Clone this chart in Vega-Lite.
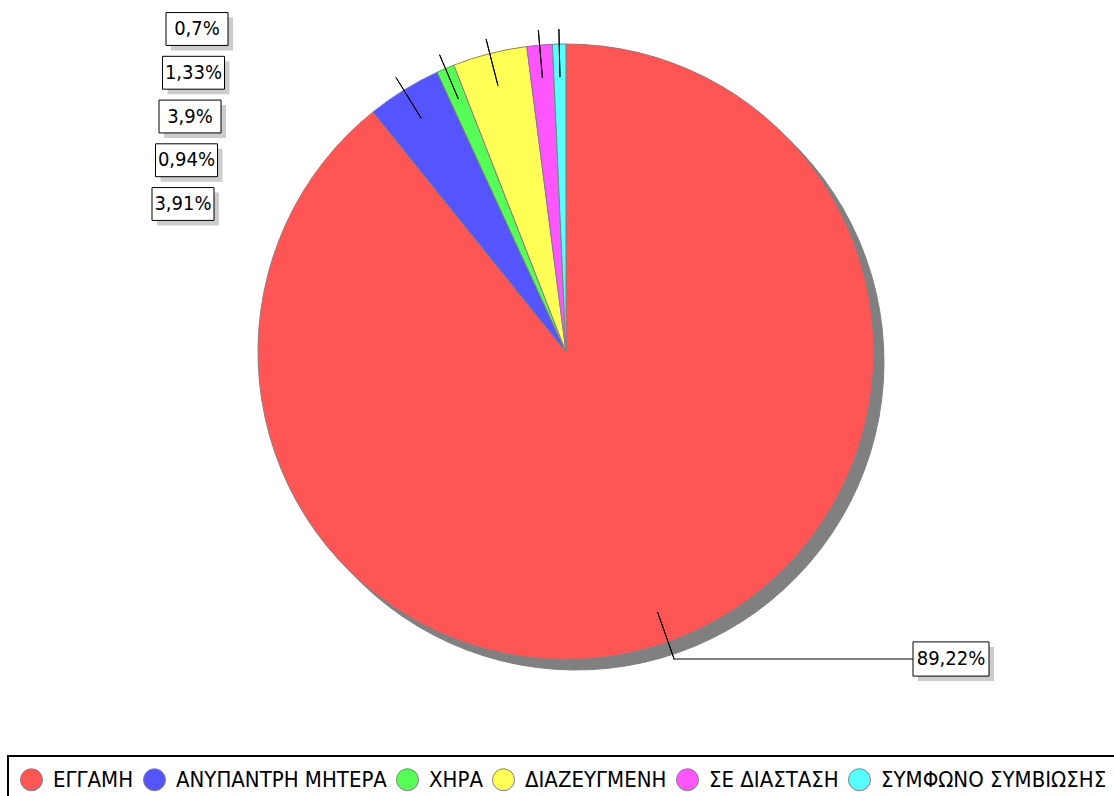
{
  "$schema": "https://vega.github.io/schema/vega-lite/v6.json",
  "width": 1096,
  "height": 704,
  "autosize": {"type": "none"},
  "padding": {"left": 18, "top": 0, "right": 0, "bottom": 92},
  "background": "#ffffff",
  "config": {
    "view": {"stroke": null},
    "font": "DejaVu Sans",
    "legend": {"strokeWidth": 2}
  },
  "data": {
    "values": [
      {"category": "ΕΓΓΑΜΗ", "value": 89.22, "order": 1, "label": "89,22%"},
      {"category": "ΑΝΥΠΑΝΤΡΗ ΜΗΤΕΡΑ", "value": 3.91, "order": 2, "label": "3,91%"},
      {"category": "ΧΗΡΑ", "value": 0.94, "order": 3, "label": "0,94%"},
      {"category": "ΔΙΑΖΕΥΓΜΕΝΗ", "value": 3.9, "order": 4, "label": "3,9%"},
      {"category": "ΣΕ ΔΙΑΣΤΑΣΗ", "value": 1.33, "order": 5, "label": "1,33%"},
      {"category": "ΣΥΜΦΩΝΟ ΣΥΜΒΙΩΣΗΣ", "value": 0.7, "order": 6, "label": "0,7%"}
    ]
  },
  "layer": [
    {
      "mark": {"type": "arc", "radius": 308, "fill": "#808080", "stroke": "#808080", "strokeWidth": 1, "xOffset": 10, "yOffset": 10},
      "encoding": {
        "theta": {"field": "value", "type": "quantitative"},
        "order": {"field": "order", "type": "quantitative"}
      }
    },
    {
      "mark": {"type": "arc", "radius": 308, "stroke": "#808080", "strokeWidth": 1},
      "encoding": {
        "theta": {"field": "value", "type": "quantitative"},
        "order": {"field": "order", "type": "quantitative"},
        "color": {
          "field": "category",
          "type": "nominal",
          "scale": {
            "domain": ["ΕΓΓΑΜΗ", "ΑΝΥΠΑΝΤΡΗ ΜΗΤΕΡΑ", "ΧΗΡΑ", "ΔΙΑΖΕΥΓΜΕΝΗ", "ΣΕ ΔΙΑΣΤΑΣΗ", "ΣΥΜΦΩΝΟ ΣΥΜΒΙΩΣΗΣ"],
            "range": ["#ff5555", "#5555ff", "#55ff55", "#ffff55", "#ff55ff", "#55ffff"]
          },
          "legend": {
            "orient": "none",
            "legendX": -10,
            "legendY": 756,
            "direction": "horizontal",
            "columns": 6,
            "title": null,
            "symbolType": "circle",
            "symbolSize": 484,
            "symbolStrokeColor": "#808080",
            "symbolStrokeWidth": 1,
            "symbolOpacity": 1,
            "labelFont": "DejaVu Sans Condensed, DejaVu Sans",
            "labelFontSize": 22,
            "labelColor": "#000000",
            "labelOffset": 10,
            "labelLimit": 500,
            "columnPadding": 7,
            "padding": 12,
            "strokeColor": "#000000",
            "fillColor": "#ffffff"
          }
        }
      }
    },
    {
      "mark": {"type": "arc", "innerRadius": 275, "outerRadius": 323, "padAngle": 3.14, "filled": false, "fill": null, "stroke": "#000000", "strokeWidth": 1},
      "encoding": {
        "theta": {"field": "value", "type": "quantitative"},
        "order": {"field": "order", "type": "quantitative"},
        "strokeOpacity": {"condition": {"test": "datum.category === 'ΕΓΓΑΜΗ'", "value": 0}, "value": 1}
      }
    },
    {
      "transform": [{"filter": "datum.category === 'ΕΓΓΑΜΗ'"}],
      "layer": [
        {
          "mark": {"type": "arc", "innerRadius": 276, "outerRadius": 325, "padAngle": 3.14, "filled": false, "fill": null, "stroke": "#000000", "strokeWidth": 1},
          "encoding": {
            "theta": {"field": "value", "type": "quantitative", "scale": {"domain": [0, 100], "range": [1.4015, 4.5431]}}
          }
        }
      ]
    },
    {
      "transform": [{"filter": "datum.category !== 'ΕΓΓΑΜΗ'"}],
      "encoding": {
        "x": {
          "field": "category",
          "type": "nominal",
          "axis": null,
          "scale": {"type": "point", "padding": 0, "domain": ["ΣΥΜΦΩΝΟ ΣΥΜΒΙΩΣΗΣ", "ΣΕ ΔΙΑΣΤΑΣΗ", "ΔΙΑΖΕΥΓΜΕΝΗ", "ΧΗΡΑ", "ΑΝΥΠΑΝΤΡΗ ΜΗΤΕΡΑ"], "range": [179, 165]}
        },
        "y": {
          "field": "category",
          "type": "nominal",
          "axis": null,
          "scale": {"type": "point", "padding": 0, "domain": ["ΣΥΜΦΩΝΟ ΣΥΜΒΙΩΣΗΣ", "ΣΕ ΔΙΑΣΤΑΣΗ", "ΔΙΑΖΕΥΓΜΕΝΗ", "ΧΗΡΑ", "ΑΝΥΠΑΝΤΡΗ ΜΗΤΕΡΑ"], "range": [29, 204]}
        }
      },
      "layer": [
        {"mark": {"type": "point", "shape": "M-1,-0.53H1V0.53H-1Z", "size": 3844, "filled": true, "fill": "#cccccc", "strokeWidth": 0, "opacity": 1, "xOffset": 5, "yOffset": 5}},
        {"mark": {"type": "point", "shape": "M-1,-0.53H1V0.53H-1Z", "size": 3844, "filled": true, "fill": "#ffffff", "stroke": "#000000", "strokeWidth": 1, "opacity": 1}},
        {"mark": {"type": "text", "font": "DejaVu Sans Condensed, DejaVu Sans", "fontSize": 20, "color": "#000000", "align": "center", "baseline": "middle"}, "encoding": {"text": {"field": "label"}}}
      ]
    },
    {
      "transform": [{"filter": "datum.category === 'ΕΓΓΑΜΗ'"}],
      "encoding": {
        "x": {"field": "category", "type": "nominal", "axis": null, "scale": {"type": "point", "padding": 0, "range": [933, 933]}},
        "y": {"field": "category", "type": "nominal", "axis": null, "scale": {"type": "point", "padding": 0, "range": [659, 659]}}
      },
      "layer": [
        {"mark": {"type": "rule", "color": "#000000", "strokeWidth": 1, "xOffset": -38, "x2Offset": -278}, "encoding": {"x2": {"field": "category"}}},
        {"mark": {"type": "point", "shape": "M-1,-0.45H1V0.45H-1Z", "size": 5776, "filled": true, "fill": "#cccccc", "strokeWidth": 0, "opacity": 1, "xOffset": 5, "yOffset": 5}},
        {"mark": {"type": "point", "shape": "M-1,-0.45H1V0.45H-1Z", "size": 5776, "filled": true, "fill": "#ffffff", "stroke": "#000000", "strokeWidth": 1, "opacity": 1}},
        {"mark": {"type": "text", "font": "DejaVu Sans Condensed, DejaVu Sans", "fontSize": 20, "color": "#000000", "align": "center", "baseline": "middle"}, "encoding": {"text": {"field": "label"}}}
      ]
    }
  ],
  "resolve": {"scale": {"x": "independent", "y": "independent", "theta": "independent"}}
}
